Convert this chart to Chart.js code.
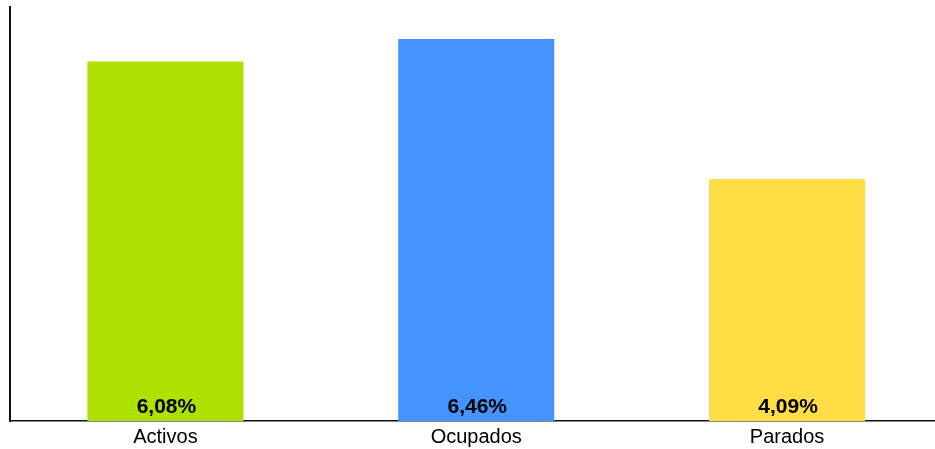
<!DOCTYPE html>
<html>
<head>
<meta charset="utf-8">
<script src="https://cdn.jsdelivr.net/npm/chart.js@4/dist/chart.umd.min.js"></script>
<style>
  html, body { margin: 0; padding: 0; background: #fff; }
  #wrap { width: 935px; height: 449px; }
</style>
</head>
<body>
<div id="wrap"><canvas id="barChart"></canvas></div>
<script>
// data
const categories = ['Activos', 'Ocupados', 'Parados'];
const values = [6.08, 6.46, 4.09];
const valueLabels = ['6,08%', '6,46%', '4,09%'];
const barColors = ['#AEE000', '#4493FF', '#FFDD44'];

// value labels sit inside the bars, near the bottom
const insideLabels = {
    id: 'insideLabels',
    afterDatasetsDraw(chart) {
        const ctx = chart.ctx;
        const meta = chart.getDatasetMeta(0);
        const bottom = chart.scales.y.bottom;
        ctx.save();
        ctx.font = 'bold 21px "Liberation Sans", Arial, sans-serif';
        ctx.fillStyle = '#000';
        ctx.textAlign = 'center';
        ctx.textBaseline = 'middle';
        meta.data.forEach(function(bar, i) {
            ctx.fillText(valueLabels[i], bar.x + 1, bottom - 14);
        });
        ctx.restore();
    }
};

window.onload = function() {
    const ctx = document.getElementById('barChart').getContext('2d');
    new Chart(ctx, {
        type: 'bar',
        data: {
            datasets: [{
                data: values.map((v, i) => ({ x: i, y: v })),
                backgroundColor: barColors,
                borderWidth: 0,
                barPercentage: 1,
                categoryPercentage: 0.502
            }]
        },
        options: {
            responsive: true,
            maintainAspectRatio: false,
            animation: false,
            layout: { padding: { left: 10, top: 7, right: 0, bottom: -4 } },
            plugins: {
                legend: { display: false },
                tooltip: { enabled: false }
            },
            scales: {
                x: {
                    type: 'linear',
                    offset: false,
                    min: -0.5,
                    max: 2.476,
                    afterBuildTicks: function(scale) {
                        scale.ticks = categories.map((c, i) => ({ value: i }));
                    },
                    grid: { display: false, drawTicks: false },
                    border: { display: true, color: '#111', width: 1.5 },
                    ticks: {
                        padding: 4,
                        color: '#000',
                        font: { family: '"Liberation Sans", Arial, sans-serif', size: 20 },
                        callback: function(value) { return categories[value]; }
                    }
                },
                y: {
                    min: 0,
                    max: 7,
                    grid: { display: false, drawTicks: false },
                    border: { display: true, color: '#111', width: 2 },
                    ticks: { display: false }
                }
            }
        },
        plugins: [insideLabels]
    });
};
</script>
</body>
</html>
